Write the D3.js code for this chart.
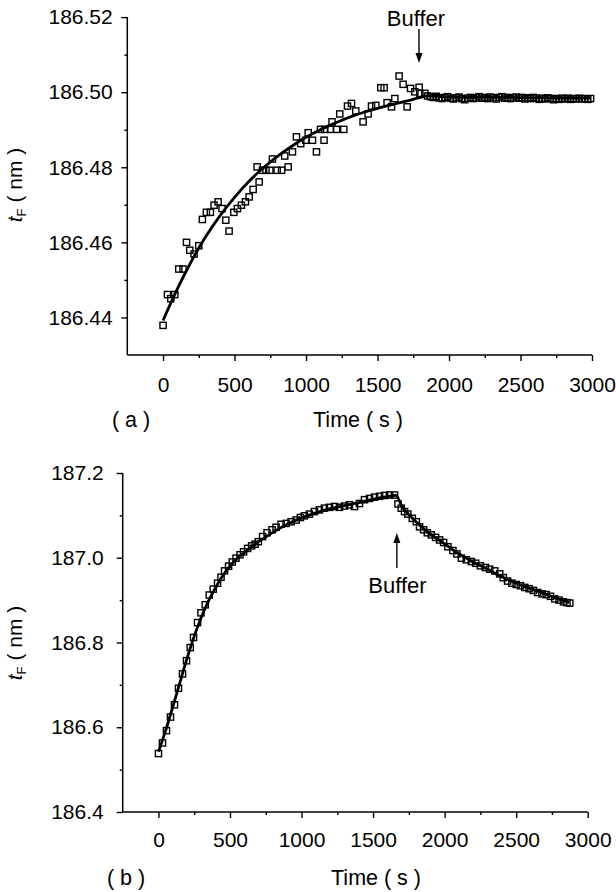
<!DOCTYPE html>
<html>
<head>
<meta charset="utf-8">
<script src="https://cdn.jsdelivr.net/npm/d3@7"></script>
<style>
html,body{margin:0;padding:0;background:#fff;}
text{font-family:"Liberation Sans",Arial,Helvetica,sans-serif;fill:#000;}
</style>
</head>
<body>
<svg id="chart" width="616" height="892"></svg>
<script>
// ---------- Panel (a) data ----------
const timeA = [0,31,54,82,110,140,164,187,217,250,275,303,331,357,385,413,439,462,495,520,548,576,602,630,658,672,695,720,747,765,798,829,851,875,905,933,963,998,1015,1045,1073,1101,1126,1131,1171,1182,1213,1236,1264,1290,1318,1348,1399,1434,1458,1488,1523,1546,1567,1598,1621,1651,1679,1707,1731,1761,1791,1796,1831,
  1850,1870,1890,1910,1930,1950,1970,1990,2010,2030,2050,2070,2090,2110,2130,2150,2170,2190,2210,2230,2250,2270,2290,2310,2330,2350,2370,2390,2410,2430,2450,2470,2490,2510,2530,2550,2570,2590,2610,2630,2650,2670,2690,2710,2730,2750,2770,2790,2810,2830,2850,2870,2890,2910,2930,2950,2970,2990];
const valueA = [186.4379,186.4461,186.4450,186.4461,186.4529,186.4529,186.4600,186.4579,186.4569,186.4591,186.4661,186.4680,186.4680,186.4699,186.4708,186.4690,186.4659,186.4630,186.4680,186.4690,186.4699,186.4708,186.4721,186.4741,186.4801,186.4761,186.4792,186.4792,186.4792,186.4822,186.4792,186.4792,186.4830,186.4801,186.4841,186.4881,186.4863,186.4872,186.4892,186.4872,186.4841,186.4901,186.4872,186.4901,186.4901,186.4921,186.4901,186.4942,186.4901,186.4963,186.4970,186.4950,186.4921,186.4942,186.4963,186.4965,186.5012,186.5012,186.4972,186.4961,186.4983,186.5043,186.5021,186.4961,186.5010,186.5001,186.5013,186.4997,186.4997,
  186.4990,186.4988,186.4986,186.4989,186.4985,186.4983,186.4986,186.4988,186.4984,186.4982,
  186.4985,186.4987,186.4983,186.4980,186.4984,186.4986,186.4983,186.4985,186.4988,186.4984,
  186.4986,186.4983,186.4987,186.4985,186.4982,186.4986,186.4988,186.4984,186.4986,186.4983,
  186.4985,186.4987,186.4984,186.4986,186.4982,186.4985,186.4983,186.4986,186.4984,186.4981,
  186.4984,186.4982,186.4985,186.4983,186.4980,186.4983,186.4981,186.4984,186.4982,186.4984,
  186.4981,186.4983,186.4982,186.4984,186.4982,186.4983,186.4981,186.4983];
const fitTimeA = [0,100,200,300,400,500,600,700,800,900,1000,1100,1200,1300,1400,1500,1600,1700,1800,1850,2000,2200,2400,2600,2800,2990];
const fitValueA = [186.4392,186.4476,186.4551,186.4616,186.4672,186.4720,186.4762,186.4798,186.4829,186.4856,186.4880,186.4900,186.4917,186.4933,186.4946,186.4957,186.4967,186.4976,186.4986,186.4990,186.4987,186.4986,186.4986,186.4985,186.4984,186.4984];
const xTicksA = [0,500,1000,1500,2000,2500,3000];
const xMinorA = [250,750,1250,1750,2250,2750];
const yTicksA = [186.44,186.46,186.48,186.50,186.52];
const yMinorA = [186.45,186.47,186.49,186.51];
const bufferTimeA = 1790;

// ---------- Panel (b) data ----------
const timeB = [0,28,56,84,112,140,168,196,222,245,273,297,327,355,383,413,437,462,490,516,542,570,595,623,651,675,698,728,759,794,822,857,892,927,962,992,1020,1055,1090,1125,1160,1195,1230,1265,1300,1335,1370,1405,1440,1475,1510,1545,1580,1615,1650,
  1674,1697,1720,1743,1774,1802,1825,1853,1879,1907,1937,1965,1993,2023,2058,2086,2117,2152,2187,2217,2250,2285,2315,2350,2385,2410,2440,2470,2500,2530,2560,2590,2620,2650,2680,2710,2740,2770,2800,2830,2855,2875];
const valueB = [186.538,186.563,186.592,186.624,186.653,186.692,186.726,186.757,186.788,186.812,186.847,186.870,186.889,186.912,186.926,186.940,186.954,186.969,186.980,186.990,186.999,187.007,187.014,187.022,187.028,187.032,187.038,187.050,187.059,187.066,187.072,187.079,187.081,187.085,187.089,187.095,187.099,187.103,187.109,187.113,187.117,187.119,187.121,187.119,187.122,187.125,187.121,187.128,187.137,187.140,187.143,187.145,187.147,187.148,187.148,
  187.127,187.117,187.109,187.103,187.093,187.085,187.073,187.066,187.059,187.054,187.048,187.042,187.036,187.026,187.017,187.009,186.999,186.995,186.991,186.987,186.981,186.977,186.973,186.969,186.962,186.953,186.945,186.940,186.937,186.934,186.930,186.927,186.923,186.918,186.915,186.913,186.909,186.903,186.900,186.896,186.894,186.893];
const fitTimeB = [0,50,100,150,200,250,300,350,400,450,500,550,600,700,800,900,1000,1100,1200,1300,1400,1500,1600,1660,1700,1750,1800,1900,2000,2100,2200,2300,2400,2500,2600,2700,2800,2870];
const fitValueB = [186.542,186.592,186.648,186.706,186.763,186.815,186.860,186.898,186.930,186.958,186.980,186.998,187.012,187.038,187.060,187.079,187.094,187.106,187.116,187.123,187.130,187.138,187.144,187.147,187.122,187.102,187.085,187.056,187.033,187.009,186.990,186.973,186.955,186.940,186.927,186.915,186.902,186.894];
const xTicksB = [0,500,1000,1500,2000,2500,3000];
const xMinorB = [250,750,1250,1750,2250,2750];
const yTicksB = [186.4,186.6,186.8,187.0,187.2];
const yMinorB = [186.5,186.7,186.9,187.1];
const bufferTimeB = 1666;

const svg = d3.select("#chart");
svg.append("rect").attr("width",616).attr("height",892).attr("fill","#fff");

function panel(cfg){
  const g = svg.append("g");
  const x = d3.scaleLinear().domain([-250,3000]).range([cfg.x0, cfg.x1]);
  const y = d3.scaleLinear().domain(cfg.yDomain).range([cfg.yBottom, cfg.yTop]);

  // axes
  const gy = g.append("g").attr("transform",`translate(${cfg.x0},0)`)
    .call(d3.axisLeft(y).tickValues(cfg.yTicks).tickSize(6).tickPadding(cfg.yPad).tickFormat(cfg.yFmt));
  const gym = g.append("g").attr("transform",`translate(${cfg.x0},0)`)
    .call(d3.axisLeft(y).tickValues(cfg.yMinor).tickSize(3).tickFormat(""));
  const gx = g.append("g").attr("transform",`translate(0,${cfg.yBottom})`)
    .call(d3.axisBottom(x).tickValues(cfg.xTicks).tickSize(6).tickPadding(cfg.xPad).tickFormat(d3.format("d")));
  const gxm = g.append("g").attr("transform",`translate(0,${cfg.yBottom})`)
    .call(d3.axisBottom(x).tickValues(cfg.xMinor).tickSize(3).tickFormat(""));
  gym.select(".domain").remove();
  gxm.select(".domain").remove();
  gy.select(".domain").attr("d",`M0,${cfg.yTop}V${cfg.yBottom}`);
  gx.select(".domain").attr("d",`M${cfg.x0},0H${cfg.x1}`);
  g.selectAll(".domain").attr("stroke","#000").attr("stroke-width",1.5);
  g.selectAll(".tick line").attr("stroke","#000").attr("stroke-width",1.4);
  g.selectAll(".tick text").attr("font-size",21).attr("font-family",'"Liberation Sans",Arial,sans-serif').attr("fill","#000");

  // fit line
  const line = d3.line().x(d=>x(d[0])).y(d=>y(d[1])).curve(d3.curveMonotoneX);
  g.append("path").datum(cfg.fitT.map((t,i)=>[t,cfg.fitV[i]]))
    .attr("d",line).attr("fill","none").attr("stroke","#000").attr("stroke-width",2.8);

  // squares (hollow)
  const s = 6.2;
  g.append("g").selectAll("rect").data(cfg.t.map((t,i)=>[t,cfg.v[i]])).join("rect")
    .attr("x",d=>x(d[0])-s/2).attr("y",d=>y(d[1])-s/2).attr("width",s).attr("height",s)
    .attr("fill","none").attr("stroke","#000").attr("stroke-width",1.4);

  // labels
  g.append("text").attr("x",cfg.timeX).attr("y",cfg.timeY).attr("text-anchor","middle").attr("font-size",21.5).text("Time ( s )");
  g.append("text").attr("x",cfg.tagX).attr("y",cfg.timeY).attr("text-anchor","middle").attr("font-size",21.5).text(cfg.tag);
  const yl = g.append("text").attr("transform",`translate(${cfg.ylX},${cfg.ylY}) rotate(-90)`).attr("text-anchor","middle").attr("font-size",21);
  yl.append("tspan").attr("font-style","italic").text("t");
  yl.append("tspan").attr("font-size",13).attr("dy",4).text("F");
  yl.append("tspan").attr("dy",-4).text(" ( nm )");

  // buffer annotation
  const bx = x(cfg.bufferT);
  const dir = cfg.arrowTip>cfg.arrowTail ? -1 : 1;
  g.append("text").attr("x",cfg.bufTextX).attr("y",cfg.bufTextY).attr("text-anchor","middle").attr("font-size",22).text("Buffer");
  g.append("line").attr("x1",bx).attr("x2",bx).attr("y1",cfg.arrowTail).attr("y2",cfg.arrowTip + dir*8)
    .attr("stroke","#000").attr("stroke-width",1.4);
  g.append("path").attr("d",`M${bx},${cfg.arrowTip}L${bx-3.5},${cfg.arrowTip+dir*10}L${bx+3.5},${cfg.arrowTip+dir*10}Z`).attr("fill","#000");
}

panel({
  x0:127.3, x1:592, yTop:17.1, yBottom:355, yDomain:[186.43,186.52],
  yTicks:yTicksA, yMinor:yMinorA, xTicks:xTicksA, xMinor:xMinorA,
  yFmt:d3.format(".2f"), yPad:8.6, xPad:16,
  t:timeA, v:valueA, fitT:fitTimeA, fitV:fitValueA,
  timeX:358, timeY:426.5, tagX:131, tag:"( a )", ylX:22, ylY:185,
  bufferT:bufferTimeA, bufTextX:416, bufTextY:26, arrowTail:29, arrowTip:63
});
panel({
  x0:122.7, x1:587.7, yTop:473, yBottom:812, yDomain:[186.4,187.2],
  yTicks:yTicksB, yMinor:yMinorB, xTicks:xTicksB, xMinor:xMinorB,
  yFmt:d3.format(".1f"), yPad:13, xPad:14,
  t:timeB, v:valueB, fitT:fitTimeB, fitV:fitValueB,
  timeX:376, timeY:884.5, tagX:126, tag:"( b )", ylX:22, ylY:643,
  bufferT:bufferTimeB, bufTextX:397.5, bufTextY:593, arrowTail:568, arrowTip:533
});
</script>
</body>
</html>
